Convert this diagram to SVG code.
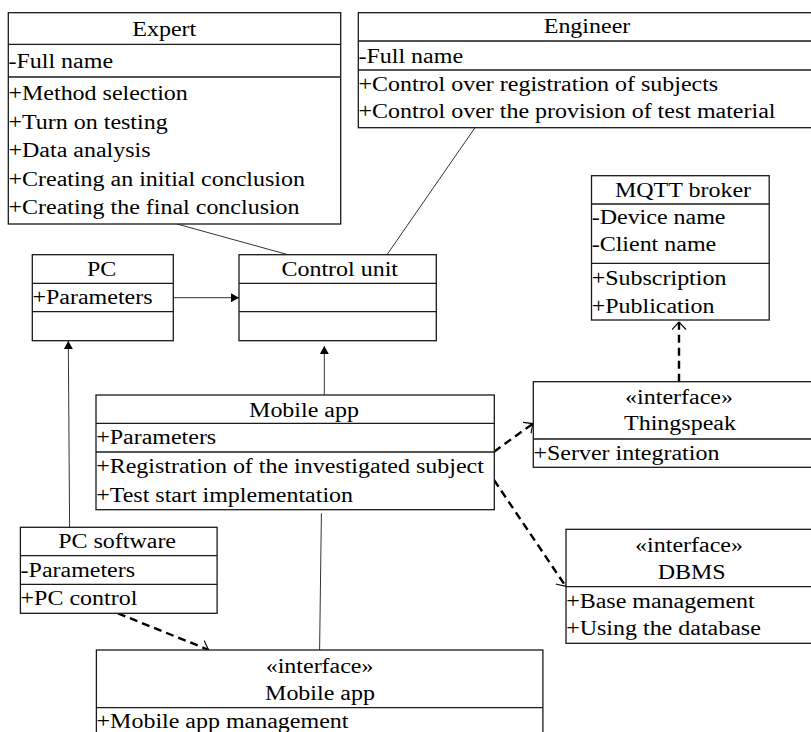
<svg xmlns="http://www.w3.org/2000/svg" width="811" height="732" viewBox="0 0 811 732">
<defs>
<style>
.t{font-size:20.5px;fill:#000}
.c{text-anchor:middle}
.box{fill:#fff;stroke:#1a1a1a;stroke-width:1.3}
.ln{stroke:#1a1a1a;stroke-width:1.3}
.conn{stroke:#333;stroke-width:1;fill:none}
.dash{stroke:#000;stroke-width:2.4;stroke-dasharray:8 5;fill:none}
</style>
<marker id="fa" viewBox="0 0 8 9" refX="8" refY="4.5" markerWidth="8" markerHeight="9" markerUnits="userSpaceOnUse" orient="auto"><path d="M0,0 L8,4.5 L0,9 z" fill="#000"/></marker>
<marker id="oa" viewBox="0 0 8 15" refX="8" refY="7.5" markerWidth="8" markerHeight="15" markerUnits="userSpaceOnUse" orient="auto"><path d="M0,0.5 L7.5,7.5 L0,14.5" fill="none" stroke="#000" stroke-width="1.1"/></marker>
</defs>
<rect width="811" height="732" fill="#fff"/>

<g id="connectors">
<line class="conn" x1="177" y1="224" x2="288" y2="254.7"/>
<line class="conn" x1="475" y1="127.7" x2="387" y2="254.7"/>
<line class="conn" x1="173.3" y1="297.7" x2="239" y2="297.7" marker-end="url(#fa)"/>
<line class="conn" x1="324.3" y1="395" x2="324.3" y2="346" marker-end="url(#fa)"/>
<line class="conn" x1="69.6" y1="527.3" x2="68.3" y2="341" marker-end="url(#fa)"/>
<line class="dash" x1="679" y1="381.7" x2="679" y2="321.5" marker-end="url(#oa)"/>
<line class="dash" x1="494" y1="451.7" x2="533.3" y2="423.3" marker-end="url(#oa)"/>
<line class="dash" x1="494" y1="480" x2="566" y2="586.7" marker-end="url(#oa)"/>
<line class="dash" x1="117.9" y1="613.3" x2="208.9" y2="650" marker-end="url(#oa)"/>
<line class="conn" x1="321.4" y1="513.3" x2="319.6" y2="650"/>
</g>

<g font-family="'Liberation Serif', 'Times New Roman', Times, serif">
<g id="expert">
<rect class="box" x="8.3" y="12.7" width="332.4" height="211.3"/>
<line class="ln" x1="8.3" y1="44.3" x2="340.7" y2="44.3"/>
<line class="ln" x1="8.3" y1="77" x2="340.7" y2="77"/>
<text class="t c" transform="translate(164.3 35.5) scale(1.17 1)">Expert</text>
<text class="t" transform="translate(8.5 68) scale(1.17 1)">-Full name</text>
<text class="t" transform="translate(8.5 100) scale(1.17 1)">+Method selection</text>
<text class="t" transform="translate(8.5 128.5) scale(1.17 1)">+Turn on testing</text>
<text class="t" transform="translate(8.5 157) scale(1.17 1)">+Data analysis</text>
<text class="t" transform="translate(8.5 185.5) scale(1.17 1)">+Creating an initial conclusion</text>
<text class="t" transform="translate(8.5 213.5) scale(1.17 1)">+Creating the final conclusion</text>
</g>

<g id="engineer">
<rect class="box" x="358.3" y="12.7" width="460" height="115"/>
<line class="ln" x1="358.3" y1="41" x2="818" y2="41"/>
<line class="ln" x1="358.3" y1="70" x2="818" y2="70"/>
<text class="t c" transform="translate(587 33.3) scale(1.17 1)">Engineer</text>
<text class="t" transform="translate(358.5 63.3) scale(1.17 1)">-Full name</text>
<text class="t" transform="translate(358.5 90.7) scale(1.17 1)">+Control over registration of subjects</text>
<text class="t" transform="translate(358.5 118.3) scale(1.17 1)">+Control over the provision of test material</text>
</g>

<g id="mqtt">
<rect class="box" x="591.5" y="175.7" width="177.7" height="144.3"/>
<line class="ln" x1="591.5" y1="204" x2="769.2" y2="204"/>
<line class="ln" x1="591.5" y1="263.3" x2="769.2" y2="263.3"/>
<text class="t c" transform="translate(683 196.7) scale(1.17 1)">MQTT broker</text>
<text class="t" transform="translate(591.7 224) scale(1.17 1)">-Device name</text>
<text class="t" transform="translate(591.7 250.7) scale(1.17 1)">-Client name</text>
<text class="t" transform="translate(591.7 285) scale(1.17 1)">+Subscription</text>
<text class="t" transform="translate(591.7 312.7) scale(1.17 1)">+Publication</text>
</g>

<g id="pc">
<rect class="box" x="32.3" y="254.7" width="141" height="86"/>
<line class="ln" x1="32.3" y1="283.3" x2="173.3" y2="283.3"/>
<line class="ln" x1="32.3" y1="311.7" x2="173.3" y2="311.7"/>
<text class="t c" transform="translate(101.7 275.7) scale(1.17 1)">PC</text>
<text class="t" transform="translate(32.5 304.3) scale(1.17 1)">+Parameters</text>
</g>

<g id="control-unit">
<rect class="box" x="239" y="254.7" width="197.3" height="86"/>
<line class="ln" x1="239" y1="283.3" x2="436.3" y2="283.3"/>
<line class="ln" x1="239" y1="311.7" x2="436.3" y2="311.7"/>
<text class="t c" transform="translate(339.7 275.7) scale(1.17 1)">Control unit</text>
</g>

<g id="mobile-app">
<rect class="box" x="96" y="395" width="398.3" height="114.7"/>
<line class="ln" x1="96" y1="423.3" x2="494.3" y2="423.3"/>
<line class="ln" x1="96" y1="452" x2="494.3" y2="452"/>
<text class="t c" transform="translate(304 416.7) scale(1.17 1)">Mobile app</text>
<text class="t" transform="translate(96.2 444) scale(1.17 1)">+Parameters</text>
<text class="t" transform="translate(96.2 473.3) scale(1.17 1)">+Registration of the investigated subject</text>
<text class="t" transform="translate(96.2 501.7) scale(1.17 1)">+Test start implementation</text>
</g>

<g id="thingspeak">
<rect class="box" x="533.3" y="381.7" width="290" height="85.6"/>
<line class="ln" x1="533.3" y1="439" x2="823" y2="439"/>
<text class="t c" transform="translate(679 404.3) scale(1.17 1)">«interface»</text>
<text class="t c" transform="translate(680 430) scale(1.17 1)">Thingspeak</text>
<text class="t" transform="translate(533.5 460) scale(1.17 1)">+Server integration</text>
</g>

<g id="dbms">
<rect class="box" x="566" y="529.3" width="260" height="114"/>
<line class="ln" x1="566" y1="586.7" x2="826" y2="586.7"/>
<text class="t c" transform="translate(689 551.7) scale(1.17 1)">«interface»</text>
<text class="t c" transform="translate(691.7 579) scale(1.17 1)">DBMS</text>
<text class="t" transform="translate(566.2 607.7) scale(1.17 1)">+Base management</text>
<text class="t" transform="translate(566.2 635) scale(1.17 1)">+Using the database</text>
</g>

<g id="pc-software">
<rect class="box" x="20.4" y="527.3" width="196.7" height="86"/>
<line class="ln" x1="20.4" y1="555.7" x2="217.1" y2="555.7"/>
<line class="ln" x1="20.4" y1="584.3" x2="217.1" y2="584.3"/>
<text class="t c" transform="translate(117.1 548.3) scale(1.17 1)">PC software</text>
<text class="t" transform="translate(20.6 576.7) scale(1.17 1)">-Parameters</text>
<text class="t" transform="translate(20.6 605) scale(1.17 1)">+PC control</text>
</g>

<g id="mobile-app-interface">
<rect class="box" x="96.4" y="650" width="446.5" height="100"/>
<line class="ln" x1="96.4" y1="707.7" x2="542.9" y2="707.7"/>
<text class="t c" transform="translate(319.6 673.3) scale(1.17 1)">«interface»</text>
<text class="t c" transform="translate(320 700) scale(1.17 1)">Mobile app</text>
<text class="t" transform="translate(96.6 728.3) scale(1.17 1)">+Mobile app management</text>
</g>
</g>
</svg>
